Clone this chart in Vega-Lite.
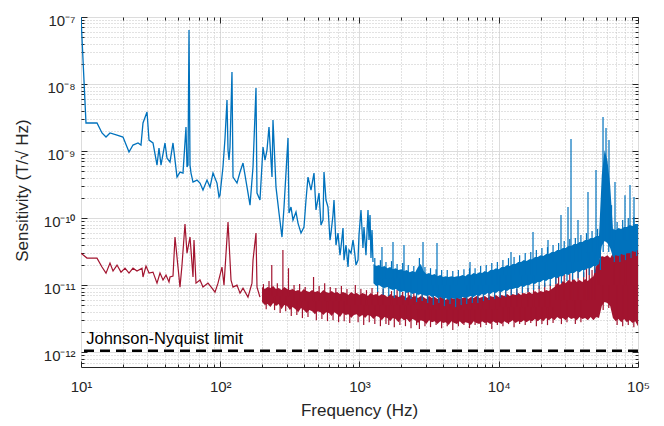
{
"$schema": "https://vega.github.io/schema/vega-lite/v6.json",
"width": 557,
"height": 350,
"autosize": {"type": "none"},
"padding": {"left": 81, "top": 17, "right": 26, "bottom": 59},
"background": "white",
"config": {
 "font": "Liberation Sans",
 "view": {"stroke": "#262626", "strokeWidth": 1},
 "axis": {"labelFont": "Liberation Sans", "labelFontSize": 15, "labelColor": "#262626", "titleFont": "Liberation Sans", "titleFontSize": 17, "titleFontWeight": "normal", "titleColor": "#262626", "tickColor": "#262626", "tickWidth": 1, "domain": false, "labelFlush": false, "labelOverlap": false, "labelBound": false}
},
"datasets": {
 "blueLine": [
  {"f":10,"v":1e-7},{"f":10.86,"v":2.62e-9},{"f":13.03,"v":2.62e-9},{"f":14.15,"v":1.86e-9},{"f":15.12,"v":1.62e-9},{"f":16.15,"v":1.86e-9},{"f":18.14,"v":1.73e-9},{"f":20.03,"v":1.62e-9},{"f":22.12,"v":9.66e-10},{"f":23.63,"v":1.23e-9},{"f":25.67,"v":1.32e-9},{"f":26.97,"v":1.23e-9},{"f":27.87,"v":2.62e-9},{"f":29.79,"v":3.82e-9},{"f":30.79,"v":1.46e-9},{"f":32.89,"v":1.32e-9},{"f":35.14,"v":6.18e-10},{"f":36.32,"v":1.11e-9},{"f":37.54,"v":6.18e-10},{"f":40.11,"v":1.32e-9},{"f":41.46,"v":7.86e-10},{"f":43.56,"v":6.85e-10},{"f":45.78,"v":1.32e-9},{"f":48.91,"v":4.09e-10},{"f":51.4,"v":4.86e-10},{"f":54.01,"v":4.7e-10},{"f":56.75,"v":2.28e-9},{"f":57.7,"v":5.77e-10},{"f":58.67,"v":6.18e-10},{"f":59.65,"v":6.4e-8},{"f":60.65,"v":6.18e-10},{"f":61.66,"v":4.7e-10},{"f":63.73,"v":3.45e-10},{"f":68.08,"v":3.69e-10},{"f":71.54,"v":3.33e-10},{"f":75.17,"v":2.62e-10},{"f":80.33,"v":3.69e-10},{"f":84.42,"v":2.9e-10},{"f":88.71,"v":4.7e-10},{"f":94.77,"v":3.33e-10},{"f":97.95,"v":2.06e-10},{"f":99.58,"v":2.21e-10},{"f":104.6,"v":5.77e-10},{"f":108.2,"v":1.56e-9},{"f":111.8,"v":5.77e-9},{"f":113.7,"v":1.035e-9},{"f":115.6,"v":7.34e-10},{"f":117.5,"v":1.15e-9},{"f":121.4,"v":1.51e-8},{"f":123.5,"v":4.09e-10},{"f":131.9,"v":3.33e-10},{"f":138.7,"v":4.86e-10},{"f":145.7,"v":6.62e-10},{"f":155.7,"v":2.9e-10},{"f":163.6,"v":1.56e-10},{"f":171.9,"v":5.77e-10},{"f":180.6,"v":8.72e-9},{"f":183.6,"v":2.36e-10},{"f":192.9,"v":1.86e-10},{"f":202.8,"v":1.15e-9},{"f":209.6,"v":7.34e-10},{"f":216.6,"v":1.035e-9},{"f":223.9,"v":2.28e-9},{"f":235.3,"v":4.09e-10},{"f":239.2,"v":2.9e-9},{"f":251.4,"v":2.9e-10},{"f":264.2,"v":1.19e-10},{"f":277.6,"v":5.21e-11},{"f":287.0,"v":1.46e-10},{"f":306.6,"v":1.56e-9},{"f":311.7,"v":1.19e-10},{"f":322.2,"v":1.46e-10},{"f":333.0,"v":9.34e-11},{"f":349.9,"v":1.23e-10},{"f":361.7,"v":8.42e-11},{"f":380.1,"v":5.97e-11},{"f":399.4,"v":7.34e-11},{"f":412.8,"v":1.86e-10},{"f":426.7,"v":4.09e-10},{"f":448.4,"v":2.62e-10},{"f":471.2,"v":4.7e-10},{"f":487.1,"v":1.32e-10},{"f":511.8,"v":2.36e-10},{"f":529.1,"v":7.86e-11},{"f":546.9,"v":9.34e-11},{"f":556.0,"v":4.86e-10},{"f":574.6,"v":1.86e-10},{"f":593.9,"v":1.46e-10},{"f":614.0,"v":4.7e-11},{"f":624.2,"v":5.97e-11},{"f":645.2,"v":1.11e-10},{"f":656.0,"v":1.86e-10},{"f":678.0,"v":3.95e-11},{"f":700.9,"v":5.97e-11},{"f":724.4,"v":2.8e-11},{"f":736.5,"v":3.69e-11},{"f":761.3,"v":7.09e-11},{"f":774.0,"v":2.36e-11},{"f":799.9,"v":3.95e-11},{"f":826.9,"v":1.86e-11},{"f":840.6,"v":3.33e-11},{"f":868.9,"v":3.0e-11},{"f":898.2,"v":4.7e-11},{"f":913.2,"v":3.69e-11},{"f":943.9,"v":1.99e-11},{"f":975.6,"v":2.36e-11},{"f":991.8,"v":5.58e-11},{"f":1025,"v":1.32e-10},{"f":1059,"v":3.57e-11},{"f":1077,"v":7.34e-11},{"f":1113,"v":2.8e-11},{"f":1151,"v":1.32e-10},{"f":1170,"v":4.7e-11},{"f":1190,"v":1.11e-10},{"f":1209,"v":2.53e-11},{"f":1230,"v":6.62e-11},{"f":1250,"v":2.21e-11}
 ],
 "blueBand": [
  {"f":1259,"hi":2.06e-11,"lo":1.07e-11},{"f":1318,"hi":1.92e-11,"lo":9.66e-12},{"f":1380,"hi":1.99e-11,"lo":1.0e-11},{"f":1445,"hi":1.86e-11,"lo":9.34e-12},{"f":1514,"hi":1.92e-11,"lo":9.02e-12},{"f":1585,"hi":1.79e-11,"lo":9.34e-12},{"f":1660,"hi":1.86e-11,"lo":8.72e-12},{"f":1738,"hi":1.73e-11,"lo":8.42e-12},{"f":1820,"hi":1.79e-11,"lo":8.72e-12},{"f":1905,"hi":1.68e-11,"lo":8.14e-12},{"f":1995,"hi":1.73e-11,"lo":7.86e-12},{"f":2089,"hi":1.62e-11,"lo":8.14e-12},{"f":2188,"hi":1.68e-11,"lo":7.6e-12},{"f":2291,"hi":1.56e-11,"lo":7.86e-12},{"f":2399,"hi":1.62e-11,"lo":7.34e-12},{"f":2512,"hi":1.56e-11,"lo":7.6e-12},{"f":2630,"hi":1.86e-11,"lo":7.09e-12},{"f":2754,"hi":2.06e-11,"lo":7.34e-12},{"f":2884,"hi":1.62e-11,"lo":7.09e-12},{"f":3020,"hi":1.46e-11,"lo":6.85e-12},{"f":3162,"hi":1.51e-11,"lo":7.09e-12},{"f":3311,"hi":1.41e-11,"lo":6.62e-12},{"f":3467,"hi":1.46e-11,"lo":6.85e-12},{"f":3631,"hi":1.36e-11,"lo":6.4e-12},{"f":3802,"hi":1.41e-11,"lo":6.62e-12},{"f":3981,"hi":1.32e-11,"lo":6.18e-12},{"f":4169,"hi":1.36e-11,"lo":6.4e-12},{"f":4365,"hi":1.32e-11,"lo":5.97e-12},{"f":4571,"hi":1.36e-11,"lo":6.4e-12},{"f":4786,"hi":1.32e-11,"lo":6.18e-12},{"f":5012,"hi":1.36e-11,"lo":6.4e-12},{"f":5248,"hi":1.36e-11,"lo":6.18e-12},{"f":5495,"hi":1.41e-11,"lo":6.62e-12},{"f":5754,"hi":1.36e-11,"lo":6.4e-12},{"f":6026,"hi":1.46e-11,"lo":6.62e-12},{"f":6310,"hi":1.41e-11,"lo":6.85e-12},{"f":6607,"hi":1.51e-11,"lo":6.62e-12},{"f":6918,"hi":1.46e-11,"lo":7.09e-12},{"f":7244,"hi":1.56e-11,"lo":6.85e-12},{"f":7586,"hi":1.51e-11,"lo":7.34e-12},{"f":7943,"hi":1.62e-11,"lo":7.09e-12},{"f":8318,"hi":1.56e-11,"lo":7.6e-12},{"f":8710,"hi":1.68e-11,"lo":7.34e-12},{"f":9120,"hi":1.68e-11,"lo":7.86e-12},{"f":9550,"hi":1.79e-11,"lo":7.6e-12},{"f":10000,"hi":1.73e-11,"lo":8.14e-12},{"f":10471,"hi":1.86e-11,"lo":7.86e-12},{"f":10965,"hi":1.86e-11,"lo":8.42e-12},{"f":11482,"hi":1.99e-11,"lo":8.14e-12},{"f":12023,"hi":1.92e-11,"lo":8.72e-12},{"f":12589,"hi":2.06e-11,"lo":8.72e-12},{"f":13183,"hi":2.06e-11,"lo":9.02e-12},{"f":13804,"hi":2.21e-11,"lo":9.02e-12},{"f":14454,"hi":2.21e-11,"lo":9.66e-12},{"f":15136,"hi":2.36e-11,"lo":9.34e-12},{"f":15849,"hi":2.28e-11,"lo":1.0e-11},{"f":16596,"hi":2.44e-11,"lo":1.0e-11},{"f":17378,"hi":2.44e-11,"lo":1.07e-11},{"f":18197,"hi":2.62e-11,"lo":1.035e-11},{"f":19055,"hi":2.62e-11,"lo":1.11e-11},{"f":19953,"hi":2.8e-11,"lo":1.11e-11},{"f":20893,"hi":2.71e-11,"lo":1.19e-11},{"f":21878,"hi":2.9e-11,"lo":1.15e-11},{"f":22909,"hi":2.9e-11,"lo":1.23e-11},{"f":23988,"hi":3.11e-11,"lo":1.23e-11},{"f":25119,"hi":3.11e-11,"lo":1.32e-11},{"f":26303,"hi":3.33e-11,"lo":1.27e-11},{"f":27542,"hi":3.33e-11,"lo":1.36e-11},{"f":28840,"hi":3.57e-11,"lo":1.36e-11},{"f":30200,"hi":3.57e-11,"lo":1.46e-11},{"f":31623,"hi":3.82e-11,"lo":1.41e-11},{"f":33113,"hi":3.82e-11,"lo":1.51e-11},{"f":34674,"hi":4.09e-11,"lo":1.51e-11},{"f":36308,"hi":4.09e-11,"lo":1.62e-11},{"f":38019,"hi":4.38e-11,"lo":1.56e-11},{"f":39811,"hi":4.38e-11,"lo":1.68e-11},{"f":41687,"hi":4.7e-11,"lo":1.68e-11},{"f":43652,"hi":4.7e-11,"lo":1.79e-11},{"f":45709,"hi":5.03e-11,"lo":1.79e-11},{"f":47863,"hi":5.03e-11,"lo":1.92e-11},{"f":50119,"hi":5.39e-11,"lo":1.92e-11},{"f":52481,"hi":5.39e-11,"lo":2.06e-11},{"f":54954,"hi":4.38e-10,"lo":3.82e-11},{"f":57544,"hi":1.035e-9,"lo":4.54e-11},{"f":60256,"hi":7.34e-10,"lo":4.24e-11},{"f":63096,"hi":3.11e-10,"lo":3.57e-11},{"f":66069,"hi":6.85e-11,"lo":2.62e-11},{"f":69183,"hi":6.62e-11,"lo":2.8e-11},{"f":72444,"hi":7.09e-11,"lo":2.71e-11},{"f":75858,"hi":6.85e-11,"lo":2.9e-11},{"f":79433,"hi":7.34e-11,"lo":2.8e-11},{"f":83176,"hi":7.34e-11,"lo":3.0e-11},{"f":87096,"hi":7.86e-11,"lo":3.0e-11},{"f":91201,"hi":7.6e-11,"lo":3.22e-11},{"f":95499,"hi":8.14e-11,"lo":3.11e-11},{"f":100000,"hi":8.14e-11,"lo":3.33e-11}
 ],
 "blueFringe": [
  {"f":1288,"tip":2.53e-11,"mid":1.27e-11},{"f":1413,"tip":2.36e-11,"mid":1.27e-11},{"f":1549,"tip":2.21e-11,"mid":1.27e-11},{"f":1698,"tip":2.28e-11,"mid":1.27e-11},{"f":1862,"tip":2.06e-11,"mid":1.27e-11},{"f":2042,"tip":2.13e-11,"mid":1.27e-11},{"f":2239,"tip":1.99e-11,"mid":1.27e-11},{"f":2455,"tip":1.92e-11,"mid":1.27e-11},{"f":2692,"tip":2.53e-11,"mid":1.27e-11},{"f":2951,"tip":1.86e-11,"mid":1.27e-11},{"f":3236,"tip":1.79e-11,"mid":1.0e-11},{"f":3548,"tip":1.73e-11,"mid":1.0e-11},{"f":3890,"tip":1.68e-11,"mid":1.0e-11},{"f":4266,"tip":1.68e-11,"mid":1.0e-11},{"f":4677,"tip":1.62e-11,"mid":1.0e-11},{"f":5129,"tip":1.68e-11,"mid":1.0e-11},{"f":5623,"tip":1.73e-11,"mid":1.0e-11},{"f":6166,"tip":1.79e-11,"mid":1.0e-11},{"f":6761,"tip":1.79e-11,"mid":1.0e-11},{"f":7413,"tip":1.92e-11,"mid":1.0e-11},{"f":8128,"tip":1.99e-11,"mid":1.0e-11},{"f":8913,"tip":2.13e-11,"mid":1.0e-11},{"f":9772,"tip":2.21e-11,"mid":1.0e-11},{"f":10715,"tip":2.36e-11,"mid":1.41e-11},{"f":11749,"tip":2.53e-11,"mid":1.41e-11},{"f":12882,"tip":2.62e-11,"mid":1.41e-11},{"f":14125,"tip":2.8e-11,"mid":1.41e-11},{"f":15488,"tip":3.0e-11,"mid":1.41e-11},{"f":16982,"tip":3.11e-11,"mid":1.41e-11},{"f":18621,"tip":3.33e-11,"mid":1.41e-11},{"f":20417,"tip":3.57e-11,"mid":2.21e-11},{"f":22387,"tip":3.69e-11,"mid":2.21e-11},{"f":24547,"tip":3.95e-11,"mid":2.21e-11},{"f":26915,"tip":4.24e-11,"mid":2.21e-11},{"f":29512,"tip":4.54e-11,"mid":2.21e-11},{"f":32359,"tip":4.86e-11,"mid":2.21e-11},{"f":35481,"tip":5.03e-11,"mid":2.21e-11},{"f":38905,"tip":5.58e-11,"mid":2.21e-11},{"f":42658,"tip":5.97e-11,"mid":3.11e-11},{"f":46774,"tip":6.4e-11,"mid":3.11e-11},{"f":51286,"tip":6.85e-11,"mid":3.11e-11},{"f":64565,"tip":1.56e-10,"mid":4.7e-11},{"f":70795,"tip":8.72e-11,"mid":4.7e-11},{"f":77625,"tip":9.34e-11,"mid":4.7e-11},{"f":85114,"tip":1.0e-10,"mid":4.7e-11},{"f":93325,"tip":1.035e-10,"mid":4.7e-11},
  {"f":1349,"tip":7.86e-12,"mid":1.27e-11},{"f":1479,"tip":7.09e-12,"mid":1.27e-11},{"f":1622,"tip":6.85e-12,"mid":1.27e-11},{"f":1778,"tip":6.4e-12,"mid":1.27e-11},{"f":1950,"tip":6.62e-12,"mid":1.27e-11},{"f":2138,"tip":5.97e-12,"mid":1.27e-11},{"f":2344,"tip":6.18e-12,"mid":1.27e-11},{"f":2570,"tip":5.58e-12,"mid":1.27e-11},{"f":2818,"tip":5.77e-12,"mid":1.27e-11},{"f":3090,"tip":5.39e-12,"mid":1.27e-11},{"f":3388,"tip":5.03e-12,"mid":1.0e-11},{"f":3715,"tip":5.39e-12,"mid":1.0e-11},{"f":4074,"tip":4.86e-12,"mid":1.0e-11},{"f":4467,"tip":5.21e-12,"mid":1.0e-11},{"f":4898,"tip":4.7e-12,"mid":1.0e-11},{"f":5370,"tip":5.03e-12,"mid":1.0e-11},{"f":5888,"tip":5.21e-12,"mid":1.0e-11},{"f":6457,"tip":5.39e-12,"mid":1.0e-11},{"f":7079,"tip":5.39e-12,"mid":1.0e-11},{"f":7762,"tip":5.77e-12,"mid":1.0e-11},{"f":8511,"tip":5.97e-12,"mid":1.0e-11},{"f":9333,"tip":6.18e-12,"mid":1.0e-11},{"f":10233,"tip":6.4e-12,"mid":1.41e-11},{"f":11220,"tip":6.62e-12,"mid":1.41e-11},{"f":12303,"tip":7.09e-12,"mid":1.41e-11},{"f":13490,"tip":7.09e-12,"mid":1.41e-11},{"f":14791,"tip":7.6e-12,"mid":1.41e-11},{"f":16218,"tip":7.86e-12,"mid":1.41e-11},{"f":17783,"tip":8.42e-12,"mid":1.41e-11},{"f":19498,"tip":8.72e-12,"mid":1.41e-11},{"f":21380,"tip":9.34e-12,"mid":2.21e-11},{"f":23442,"tip":9.66e-12,"mid":2.21e-11},{"f":25704,"tip":1.035e-11,"mid":2.21e-11},{"f":28184,"tip":1.07e-11,"mid":2.21e-11},{"f":30903,"tip":1.15e-11,"mid":2.21e-11},{"f":33884,"tip":1.19e-11,"mid":2.21e-11},{"f":37154,"tip":1.27e-11,"mid":2.21e-11},{"f":40738,"tip":1.32e-11,"mid":2.21e-11},{"f":44668,"tip":1.41e-11,"mid":3.11e-11},{"f":48978,"tip":1.51e-11,"mid":3.11e-11},{"f":53703,"tip":1.68e-11,"mid":3.11e-11},{"f":56234,"tip":3.11e-11,"mid":1.86e-10},{"f":61660,"tip":3.11e-11,"mid":1.86e-10},{"f":67608,"tip":2.21e-11,"mid":4.7e-11},{"f":74131,"tip":2.21e-11,"mid":4.7e-11},{"f":81283,"tip":2.36e-11,"mid":4.7e-11},{"f":89125,"tip":2.53e-11,"mid":4.7e-11},{"f":97724,"tip":2.71e-11,"mid":4.7e-11},
  {"f":1450,"tip":3.69e-11,"mid":1.19e-11},{"f":1740,"tip":4.38e-11,"mid":1.19e-11},{"f":2087,"tip":3.95e-11,"mid":1.0e-11},{"f":2858,"tip":4.38e-11,"mid":1.0e-11},{"f":3602,"tip":4.24e-11,"mid":9.02e-12},{"f":6218,"tip":2.21e-11,"mid":8.42e-12},{"f":12246,"tip":3.11e-11,"mid":1.19e-11},{"f":17620,"tip":6.18e-11,"mid":1.41e-11},{"f":22580,"tip":4.7e-11,"mid":1.68e-11},{"f":27990,"tip":1.11e-10,"mid":1.99e-11},{"f":31430,"tip":1.46e-10,"mid":2.21e-11},{"f":33030,"tip":1.51e-9,"mid":2.36e-11},{"f":37080,"tip":9.34e-11,"mid":2.21e-11},{"f":43740,"tip":2.44e-10,"mid":2.53e-11},{"f":49930,"tip":5.2e-10,"mid":2.8e-11},{"f":56080,"tip":3.22e-9,"mid":4.7e-11},{"f":58920,"tip":2.2e-9,"mid":4.7e-11},{"f":61900,"tip":1.46e-9,"mid":4.7e-11},{"f":68360,"tip":3.45e-10,"mid":4.7e-11},{"f":80660,"tip":2.2e-10,"mid":4.7e-11},{"f":87610,"tip":3.11e-10,"mid":4.7e-11},{"f":93610,"tip":2.06e-10,"mid":4.7e-11}
 ],
 "redLine": [
  {"f":10,"v":3.0e-11},{"f":11.04,"v":2.53e-11},{"f":13.03,"v":2.53e-11},{"f":14.15,"v":1.86e-11},{"f":15.12,"v":1.51e-11},{"f":16.15,"v":2.13e-11},{"f":16.98,"v":1.62e-11},{"f":18.14,"v":1.99e-11},{"f":19.38,"v":1.56e-11},{"f":20.7,"v":1.79e-11},{"f":22.12,"v":1.51e-11},{"f":23.63,"v":1.79e-11},{"f":25.24,"v":1.62e-11},{"f":27.42,"v":1.79e-11},{"f":27.87,"v":1.32e-11},{"f":29.3,"v":1.92e-11},{"f":30.79,"v":1.51e-11},{"f":32.89,"v":1.56e-11},{"f":35.14,"v":1.07e-11},{"f":36.93,"v":1.51e-11},{"f":38.81,"v":1.19e-11},{"f":40.77,"v":1.41e-11},{"f":42.85,"v":1.11e-11},{"f":43.56,"v":1.32e-11},{"f":45.78,"v":1.36e-11},{"f":47.32,"v":5.21e-11},{"f":49.72,"v":1.86e-11},{"f":51.4,"v":9.34e-12},{"f":53.12,"v":1.99e-11},{"f":55.82,"v":8.14e-11},{"f":57.7,"v":3.0e-11},{"f":60.65,"v":5.21e-11},{"f":63.73,"v":1.32e-11},{"f":64.79,"v":4.7e-11},{"f":66.97,"v":1.07e-11},{"f":71.54,"v":1.19e-11},{"f":75.17,"v":9.34e-12},{"f":81.66,"v":1.07e-11},{"f":87.24,"v":9.02e-12},{"f":91.68,"v":7.86e-12},{"f":96.34,"v":1.07e-11},{"f":102.9,"v":1.86e-11},{"f":106.4,"v":1.0e-11},{"f":113.7,"v":8.72e-11},{"f":119.5,"v":1.19e-11},{"f":123.5,"v":9.34e-12},{"f":131.9,"v":1.0e-11},{"f":138.7,"v":7.6e-12},{"f":145.7,"v":9.02e-12},{"f":158.2,"v":6.62e-12},{"f":169.0,"v":1.07e-11},{"f":171.9,"v":2.36e-11},{"f":180.6,"v":5.97e-11},{"f":183.6,"v":9.34e-12},{"f":192.9,"v":6.62e-12}
 ],
 "redBand": [
  {"f":199.5,"hi":9.34e-12,"lo":5.58e-12},{"f":208.9,"hi":8.72e-12,"lo":5.03e-12},{"f":218.8,"hi":9.34e-12,"lo":5.21e-12},{"f":229.1,"hi":9.02e-12,"lo":4.7e-12},{"f":239.9,"hi":9.66e-12,"lo":5.39e-12},{"f":251.2,"hi":8.72e-12,"lo":4.86e-12},{"f":263.0,"hi":9.02e-12,"lo":5.21e-12},{"f":275.4,"hi":8.42e-12,"lo":4.38e-12},{"f":288.4,"hi":9.34e-12,"lo":5.03e-12},{"f":302.0,"hi":8.72e-12,"lo":4.86e-12},{"f":316.2,"hi":8.42e-12,"lo":4.24e-12},{"f":331.1,"hi":8.72e-12,"lo":4.7e-12},{"f":346.7,"hi":8.14e-12,"lo":4.38e-12},{"f":363.1,"hi":8.42e-12,"lo":3.95e-12},{"f":380.2,"hi":7.86e-12,"lo":4.54e-12},{"f":398.1,"hi":8.72e-12,"lo":4.24e-12},{"f":416.9,"hi":8.14e-12,"lo":3.82e-12},{"f":436.5,"hi":7.86e-12,"lo":4.24e-12},{"f":457.1,"hi":8.42e-12,"lo":4.09e-12},{"f":478.6,"hi":7.86e-12,"lo":3.69e-12},{"f":501.2,"hi":8.14e-12,"lo":4.09e-12},{"f":524.8,"hi":7.6e-12,"lo":3.95e-12},{"f":549.5,"hi":8.42e-12,"lo":3.57e-12},{"f":575.4,"hi":7.86e-12,"lo":3.95e-12},{"f":602.6,"hi":7.6e-12,"lo":3.82e-12},{"f":631.0,"hi":8.14e-12,"lo":3.45e-12},{"f":660.7,"hi":7.6e-12,"lo":3.95e-12},{"f":691.8,"hi":7.86e-12,"lo":3.69e-12},{"f":724.4,"hi":7.34e-12,"lo":3.33e-12},{"f":758.6,"hi":7.86e-12,"lo":3.82e-12},{"f":794.3,"hi":7.6e-12,"lo":3.57e-12},{"f":831.8,"hi":7.09e-12,"lo":3.69e-12},{"f":871.0,"hi":7.86e-12,"lo":3.22e-12},{"f":912.0,"hi":7.34e-12,"lo":3.57e-12},{"f":955.0,"hi":7.6e-12,"lo":3.69e-12},{"f":1000,"hi":7.09e-12,"lo":3.33e-12},{"f":1047,"hi":7.6e-12,"lo":3.57e-12},{"f":1096,"hi":7.34e-12,"lo":3.22e-12},{"f":1148,"hi":6.85e-12,"lo":3.57e-12},{"f":1202,"hi":7.6e-12,"lo":3.45e-12},{"f":1259,"hi":7.09e-12,"lo":3.11e-12},{"f":1318,"hi":7.34e-12,"lo":3.45e-12},{"f":1380,"hi":6.85e-12,"lo":3.33e-12},{"f":1445,"hi":7.34e-12,"lo":3.0e-12},{"f":1514,"hi":7.09e-12,"lo":3.33e-12},{"f":1585,"hi":6.62e-12,"lo":3.22e-12},{"f":1660,"hi":7.34e-12,"lo":2.9e-12},{"f":1738,"hi":6.85e-12,"lo":3.22e-12},{"f":1820,"hi":7.09e-12,"lo":3.11e-12},{"f":1905,"hi":6.62e-12,"lo":2.8e-12},{"f":1995,"hi":7.09e-12,"lo":3.22e-12},{"f":2089,"hi":6.85e-12,"lo":3.0e-12},{"f":2188,"hi":6.4e-12,"lo":3.11e-12},{"f":2291,"hi":7.09e-12,"lo":2.8e-12},{"f":2399,"hi":6.62e-12,"lo":3.11e-12},{"f":2512,"hi":6.85e-12,"lo":3.0e-12},{"f":2630,"hi":6.4e-12,"lo":2.71e-12},{"f":2754,"hi":6.85e-12,"lo":3.0e-12},{"f":2884,"hi":6.62e-12,"lo":2.9e-12},{"f":3020,"hi":6.18e-12,"lo":2.62e-12},{"f":3162,"hi":6.85e-12,"lo":3.0e-12},{"f":3311,"hi":6.4e-12,"lo":2.8e-12},{"f":3467,"hi":6.62e-12,"lo":2.9e-12},{"f":3631,"hi":6.18e-12,"lo":2.62e-12},{"f":3802,"hi":6.62e-12,"lo":2.9e-12},{"f":3981,"hi":6.4e-12,"lo":2.71e-12},{"f":4169,"hi":5.97e-12,"lo":2.8e-12},{"f":4365,"hi":6.62e-12,"lo":2.53e-12},{"f":4571,"hi":6.4e-12,"lo":2.9e-12},{"f":4786,"hi":6.18e-12,"lo":2.71e-12},{"f":5012,"hi":6.62e-12,"lo":2.62e-12},{"f":5248,"hi":6.18e-12,"lo":2.9e-12},{"f":5495,"hi":6.4e-12,"lo":2.62e-12},{"f":5754,"hi":6.62e-12,"lo":2.8e-12},{"f":6026,"hi":6.18e-12,"lo":2.71e-12},{"f":6310,"hi":6.62e-12,"lo":2.53e-12},{"f":6607,"hi":6.4e-12,"lo":2.9e-12},{"f":6918,"hi":6.85e-12,"lo":2.71e-12},{"f":7244,"hi":6.4e-12,"lo":2.62e-12},{"f":7586,"hi":6.62e-12,"lo":2.9e-12},{"f":7943,"hi":6.85e-12,"lo":2.71e-12},{"f":8318,"hi":6.4e-12,"lo":2.8e-12},{"f":8710,"hi":6.85e-12,"lo":2.62e-12},{"f":9120,"hi":6.62e-12,"lo":2.9e-12},{"f":9550,"hi":7.09e-12,"lo":2.71e-12},{"f":10000,"hi":6.62e-12,"lo":2.8e-12},{"f":10471,"hi":7.09e-12,"lo":2.62e-12},{"f":10965,"hi":6.85e-12,"lo":2.9e-12},{"f":11482,"hi":7.34e-12,"lo":2.71e-12},{"f":12023,"hi":6.85e-12,"lo":2.8e-12},{"f":12589,"hi":7.34e-12,"lo":3.0e-12},{"f":13183,"hi":7.09e-12,"lo":2.71e-12},{"f":13804,"hi":7.6e-12,"lo":2.9e-12},{"f":14454,"hi":7.09e-12,"lo":2.8e-12},{"f":15136,"hi":7.6e-12,"lo":3.0e-12},{"f":15849,"hi":7.34e-12,"lo":2.8e-12},{"f":16596,"hi":7.86e-12,"lo":3.0e-12},{"f":17378,"hi":7.34e-12,"lo":2.9e-12},{"f":18197,"hi":8.14e-12,"lo":3.11e-12},{"f":19055,"hi":7.6e-12,"lo":2.9e-12},{"f":19953,"hi":8.14e-12,"lo":3.11e-12},{"f":20893,"hi":7.86e-12,"lo":2.9e-12},{"f":21878,"hi":8.42e-12,"lo":3.22e-12},{"f":22909,"hi":8.14e-12,"lo":3.0e-12},{"f":23988,"hi":8.72e-12,"lo":3.22e-12},{"f":25119,"hi":9.34e-12,"lo":3.0e-12},{"f":26303,"hi":1.07e-11,"lo":3.33e-12},{"f":27542,"hi":1.0e-11,"lo":3.11e-12},{"f":28840,"hi":1.15e-11,"lo":3.22e-12},{"f":30200,"hi":1.07e-11,"lo":3.0e-12},{"f":31623,"hi":1.19e-11,"lo":3.33e-12},{"f":33113,"hi":1.11e-11,"lo":3.11e-12},{"f":34674,"hi":1.23e-11,"lo":3.22e-12},{"f":36308,"hi":1.11e-11,"lo":3.0e-12},{"f":38019,"hi":1.19e-11,"lo":3.33e-12},{"f":39811,"hi":1.11e-11,"lo":3.11e-12},{"f":41687,"hi":1.23e-11,"lo":3.22e-12},{"f":43652,"hi":1.15e-11,"lo":3.0e-12},{"f":45709,"hi":1.27e-11,"lo":3.33e-12},{"f":47863,"hi":1.36e-11,"lo":3.0e-12},{"f":50119,"hi":1.92e-11,"lo":3.33e-12},{"f":52481,"hi":2.36e-11,"lo":3.22e-12},{"f":54954,"hi":2.71e-11,"lo":4.86e-12},{"f":57544,"hi":2.62e-11,"lo":5.58e-12},{"f":60256,"hi":2.8e-11,"lo":5.39e-12},{"f":63096,"hi":2.53e-11,"lo":4.86e-12},{"f":66069,"hi":3.0e-11,"lo":3.22e-12},{"f":69183,"hi":3.11e-11,"lo":2.9e-12},{"f":72444,"hi":3.22e-11,"lo":3.11e-12},{"f":75858,"hi":3.11e-11,"lo":2.8e-12},{"f":79433,"hi":3.33e-11,"lo":3.11e-12},{"f":83176,"hi":3.22e-11,"lo":2.8e-12},{"f":87096,"hi":3.45e-11,"lo":3.0e-12},{"f":91201,"hi":3.33e-11,"lo":2.71e-12},{"f":95499,"hi":3.57e-11,"lo":2.9e-12},{"f":100000,"hi":3.45e-11,"lo":2.44e-12}
 ],
 "redFringe": [
  {"f":204.2,"tip":1.035e-11,"mid":6.85e-12},{"f":223.9,"tip":1.15e-11,"mid":6.85e-12},{"f":234.4,"tip":1.99e-11,"mid":6.85e-12},{"f":257.0,"tip":1.07e-11,"mid":6.85e-12},{"f":281.8,"tip":3.33e-11,"mid":6.85e-12},{"f":309.0,"tip":1.79e-11,"mid":6.85e-12},{"f":338.8,"tip":1.0e-11,"mid":5.77e-12},{"f":371.5,"tip":1.035e-11,"mid":5.77e-12},{"f":407.4,"tip":9.34e-12,"mid":5.77e-12},{"f":467.7,"tip":1.32e-11,"mid":5.77e-12},{"f":512.9,"tip":9.66e-12,"mid":5.77e-12},{"f":562.3,"tip":1.07e-11,"mid":5.77e-12},{"f":616.6,"tip":9.34e-12,"mid":5.77e-12},{"f":676.1,"tip":9.02e-12,"mid":5.77e-12},{"f":741.3,"tip":9.66e-12,"mid":5.77e-12},{"f":812.8,"tip":8.72e-12,"mid":5.03e-12},{"f":933.3,"tip":1.0e-11,"mid":5.03e-12},{"f":1023,"tip":8.72e-12,"mid":5.03e-12},{"f":1122,"tip":8.42e-12,"mid":5.03e-12},{"f":1230,"tip":9.02e-12,"mid":5.03e-12},{"f":1349,"tip":8.14e-12,"mid":5.03e-12},{"f":1479,"tip":8.72e-12,"mid":5.03e-12},{"f":1698,"tip":8.14e-12,"mid":5.03e-12},{"f":1862,"tip":8.42e-12,"mid":5.03e-12},{"f":2042,"tip":7.86e-12,"mid":5.03e-12},{"f":2239,"tip":8.72e-12,"mid":5.03e-12},{"f":2455,"tip":7.86e-12,"mid":5.03e-12},{"f":2818,"tip":8.14e-12,"mid":4.38e-12},{"f":3090,"tip":7.6e-12,"mid":4.38e-12},{"f":3388,"tip":8.42e-12,"mid":4.38e-12},{"f":3715,"tip":7.6e-12,"mid":4.38e-12},{"f":4074,"tip":7.86e-12,"mid":4.38e-12},{"f":4467,"tip":7.34e-12,"mid":4.38e-12},{"f":4898,"tip":8.42e-12,"mid":4.38e-12},{"f":5370,"tip":7.6e-12,"mid":4.38e-12},{"f":5888,"tip":7.86e-12,"mid":4.38e-12},{"f":6457,"tip":8.14e-12,"mid":4.38e-12},{"f":7079,"tip":7.6e-12,"mid":4.38e-12},{"f":7762,"tip":8.72e-12,"mid":4.38e-12},{"f":8511,"tip":8.14e-12,"mid":4.38e-12},{"f":9333,"tip":8.42e-12,"mid":4.38e-12},{"f":10233,"tip":9.02e-12,"mid":4.7e-12},{"f":11220,"tip":8.42e-12,"mid":4.7e-12},{"f":12303,"tip":9.34e-12,"mid":4.7e-12},{"f":13490,"tip":8.72e-12,"mid":4.7e-12},{"f":14791,"tip":9.66e-12,"mid":4.7e-12},{"f":16218,"tip":9.02e-12,"mid":4.7e-12},{"f":17783,"tip":1.035e-11,"mid":4.7e-12},{"f":19498,"tip":9.66e-12,"mid":4.7e-12},{"f":21380,"tip":1.07e-11,"mid":4.7e-12},{"f":23442,"tip":1.035e-11,"mid":4.7e-12},{"f":25704,"tip":1.36e-11,"mid":5.97e-12},{"f":26915,"tip":1.56e-11,"mid":5.97e-12},{"f":29512,"tip":1.92e-11,"mid":5.97e-12},{"f":32359,"tip":1.46e-11,"mid":5.97e-12},{"f":33884,"tip":1.68e-11,"mid":5.97e-12},{"f":37154,"tip":1.79e-11,"mid":5.97e-12},{"f":40738,"tip":1.56e-11,"mid":5.97e-12},{"f":42658,"tip":1.79e-11,"mid":5.97e-12},{"f":44668,"tip":2.06e-11,"mid":5.97e-12},{"f":46774,"tip":1.68e-11,"mid":5.97e-12},{"f":48978,"tip":2.53e-11,"mid":5.97e-12},{"f":51286,"tip":2.9e-11,"mid":1.0e-11},{"f":53703,"tip":3.33e-11,"mid":1.0e-11},{"f":67608,"tip":3.82e-11,"mid":1.0e-11},{"f":74131,"tip":3.95e-11,"mid":1.0e-11},{"f":81283,"tip":4.09e-11,"mid":1.0e-11},{"f":89125,"tip":3.82e-11,"mid":1.0e-11},{"f":97724,"tip":4.24e-11,"mid":1.0e-11},
  {"f":213.8,"tip":4.38e-12,"mid":6.85e-12},{"f":245.5,"tip":4.24e-12,"mid":6.85e-12},{"f":269.2,"tip":3.82e-12,"mid":6.85e-12},{"f":295.1,"tip":4.09e-12,"mid":6.85e-12},{"f":323.6,"tip":3.45e-12,"mid":5.77e-12},{"f":354.8,"tip":3.57e-12,"mid":5.77e-12},{"f":389.0,"tip":3.22e-12,"mid":5.77e-12},{"f":426.6,"tip":3.33e-12,"mid":5.77e-12},{"f":489.8,"tip":3.0e-12,"mid":5.77e-12},{"f":537.0,"tip":3.11e-12,"mid":5.77e-12},{"f":588.8,"tip":2.9e-12,"mid":5.77e-12},{"f":645.7,"tip":3.0e-12,"mid":5.77e-12},{"f":707.9,"tip":2.8e-12,"mid":5.77e-12},{"f":776.2,"tip":2.9e-12,"mid":5.77e-12},{"f":851.1,"tip":2.71e-12,"mid":5.03e-12},{"f":977.2,"tip":2.8e-12,"mid":5.03e-12},{"f":1072,"tip":2.53e-12,"mid":5.03e-12},{"f":1175,"tip":2.8e-12,"mid":5.03e-12},{"f":1288,"tip":2.62e-12,"mid":5.03e-12},{"f":1413,"tip":2.44e-12,"mid":5.03e-12},{"f":1549,"tip":2.62e-12,"mid":5.03e-12},{"f":1622,"tip":2.53e-12,"mid":5.03e-12},{"f":1778,"tip":2.36e-12,"mid":5.03e-12},{"f":1950,"tip":2.53e-12,"mid":5.03e-12},{"f":2138,"tip":2.44e-12,"mid":5.03e-12},{"f":2344,"tip":2.28e-12,"mid":5.03e-12},{"f":2570,"tip":2.53e-12,"mid":4.38e-12},{"f":2692,"tip":2.21e-12,"mid":4.38e-12},{"f":2951,"tip":2.44e-12,"mid":4.38e-12},{"f":3236,"tip":2.36e-12,"mid":4.38e-12},{"f":3548,"tip":2.53e-12,"mid":4.38e-12},{"f":3890,"tip":2.28e-12,"mid":4.38e-12},{"f":4266,"tip":2.44e-12,"mid":4.38e-12},{"f":4677,"tip":2.13e-12,"mid":4.38e-12},{"f":5129,"tip":2.44e-12,"mid":4.38e-12},{"f":5623,"tip":2.53e-12,"mid":4.38e-12},{"f":6166,"tip":2.28e-12,"mid":4.38e-12},{"f":6761,"tip":2.53e-12,"mid":4.38e-12},{"f":7413,"tip":2.36e-12,"mid":4.38e-12},{"f":8128,"tip":2.53e-12,"mid":4.38e-12},{"f":8913,"tip":2.21e-12,"mid":4.38e-12},{"f":9772,"tip":2.53e-12,"mid":4.38e-12},{"f":10715,"tip":2.44e-12,"mid":4.7e-12},{"f":11749,"tip":2.62e-12,"mid":4.7e-12},{"f":12882,"tip":2.36e-12,"mid":4.7e-12},{"f":14125,"tip":2.62e-12,"mid":4.7e-12},{"f":15488,"tip":2.53e-12,"mid":4.7e-12},{"f":16982,"tip":2.71e-12,"mid":4.7e-12},{"f":18621,"tip":2.44e-12,"mid":4.7e-12},{"f":20417,"tip":2.62e-12,"mid":4.7e-12},{"f":22387,"tip":2.53e-12,"mid":4.7e-12},{"f":24547,"tip":2.71e-12,"mid":4.7e-12},{"f":28184,"tip":2.62e-12,"mid":5.97e-12},{"f":30903,"tip":2.8e-12,"mid":5.97e-12},{"f":35481,"tip":2.62e-12,"mid":5.97e-12},{"f":38905,"tip":2.8e-12,"mid":5.97e-12},{"f":56234,"tip":4.24e-12,"mid":1.0e-11},{"f":61660,"tip":4.54e-12,"mid":1.0e-11},{"f":70795,"tip":2.53e-12,"mid":1.0e-11},{"f":77625,"tip":2.44e-12,"mid":1.0e-11},{"f":85114,"tip":2.53e-12,"mid":1.0e-11},{"f":93325,"tip":2.36e-12,"mid":1.0e-11}
 ]
},
"resolve": {"axis": {"x": "independent", "y": "independent"}},
"layer": [
 {
  "data": {"name": "redBand"},
  "mark": {"type": "area", "color": "#A2142F", "clip": true},
  "encoding": {
   "x": {"field": "f", "type": "quantitative", "scale": {"type": "log", "domain": [10, 100000], "nice": false},
    "axis": {"orient": "bottom", "values": [20,30,40,50,60,70,80,90,200,300,400,500,600,700,800,900,2000,3000,4000,5000,6000,7000,8000,9000,20000,30000,40000,50000,60000,70000,80000,90000], "grid": true, "gridDash": [1, 2], "gridColor": "#c4c4c4", "labels": false, "ticks": true, "tickSize": -3, "title": null}},
   "y": {"field": "hi", "type": "quantitative", "scale": {"type": "log", "domain": [6e-13, 1e-7], "nice": false},
    "axis": {"orient": "left", "values": [7e-13,8e-13,9e-13,2e-12,3e-12,4e-12,5e-12,6e-12,7e-12,8e-12,9e-12,2e-11,3e-11,4e-11,5e-11,6e-11,7e-11,8e-11,9e-11,2e-10,3e-10,4e-10,5e-10,6e-10,7e-10,8e-10,9e-10,2e-9,3e-9,4e-9,5e-9,6e-9,7e-9,8e-9,9e-9,2e-8,3e-8,4e-8,5e-8,6e-8,7e-8,8e-8,9e-8], "grid": true, "gridDash": [1, 2], "gridColor": "#c4c4c4", "labels": false, "ticks": true, "tickSize": -3, "title": null}},
   "y2": {"field": "lo"}
  }
 },
 {
  "data": {"name": "redFringe"},
  "mark": {"type": "rule", "color": "#A2142F", "strokeWidth": 1.2, "clip": true},
  "encoding": {
   "x": {"field": "f", "type": "quantitative", "scale": {"type": "log", "domain": [10, 100000], "nice": false},
    "axis": {"orient": "bottom", "values": [10,100,1000,10000,100000], "grid": false, "labels": false, "ticks": true, "tickSize": -6, "title": null}},
   "y": {"field": "tip", "type": "quantitative", "scale": {"type": "log", "domain": [6e-13, 1e-7], "nice": false},
    "axis": {"orient": "left", "values": [1e-12,1e-11,1e-10,1e-9,1e-8,1e-7], "grid": false, "labels": false, "ticks": true, "tickSize": -6, "title": null}},
   "y2": {"field": "mid"}
  }
 },
 {
  "data": {"name": "redLine"},
  "mark": {"type": "line", "color": "#A2142F", "strokeWidth": 1.2, "clip": true},
  "encoding": {
   "x": {"field": "f", "type": "quantitative", "scale": {"type": "log", "domain": [10, 100000], "nice": false},
    "axis": {"orient": "top", "values": [20,30,40,50,60,70,80,90,200,300,400,500,600,700,800,900,2000,3000,4000,5000,6000,7000,8000,9000,20000,30000,40000,50000,60000,70000,80000,90000], "grid": false, "labels": false, "ticks": true, "tickSize": -3, "title": null}},
   "y": {"field": "v", "type": "quantitative", "scale": {"type": "log", "domain": [6e-13, 1e-7], "nice": false},
    "axis": {"orient": "right", "values": [7e-13,8e-13,9e-13,2e-12,3e-12,4e-12,5e-12,6e-12,7e-12,8e-12,9e-12,2e-11,3e-11,4e-11,5e-11,6e-11,7e-11,8e-11,9e-11,2e-10,3e-10,4e-10,5e-10,6e-10,7e-10,8e-10,9e-10,2e-9,3e-9,4e-9,5e-9,6e-9,7e-9,8e-9,9e-9,2e-8,3e-8,4e-8,5e-8,6e-8,7e-8,8e-8,9e-8], "grid": false, "labels": false, "ticks": true, "tickSize": -3, "title": null}}
  }
 },
 {
  "data": {"name": "blueLine"},
  "mark": {"type": "line", "color": "#0072BD", "strokeWidth": 1.3, "clip": true},
  "encoding": {
   "x": {"field": "f", "type": "quantitative", "scale": {"type": "log", "domain": [10, 100000], "nice": false},
    "axis": {"orient": "bottom", "values": [10,100,1000,10000,100000], "grid": true, "gridColor": "#dcdcdc", "ticks": false, "labels": true, "labelPadding": 12, "labelExpr": "'10' + ['⁰','¹','²','³','⁴','⁵','⁶','⁷','⁸','⁹'][round(log(datum.value)/LN10)]", "title": "Frequency (Hz)", "titleX": 278, "titleY": 43, "titleBaseline": "middle", "titleAlign": "center"}},
   "y": {"field": "v", "type": "quantitative", "scale": {"type": "log", "domain": [6e-13, 1e-7], "nice": false},
    "axis": {"orient": "left", "values": [1e-12,1e-11,1e-10,1e-9,1e-8,1e-7], "grid": true, "gridColor": "#dcdcdc", "ticks": false, "labels": true, "labelPadding": 6, "labelOffset": 3, "labelExpr": "'10⁻' + (round(-log(datum.value)/LN10) >= 10 ? '¹' + ['⁰','¹','²','³','⁴','⁵','⁶','⁷','⁸','⁹'][round(-log(datum.value)/LN10) - 10] : ['⁰','¹','²','³','⁴','⁵','⁶','⁷','⁸','⁹'][round(-log(datum.value)/LN10)])", "title": "Sensitivity (T/√ Hz)", "titleX": -59, "titleY": 173, "titleBaseline": "middle", "titleAlign": "center", "titleAngle": -90}}
  }
 },
 {
  "data": {"name": "blueBand"},
  "mark": {"type": "area", "color": "#0072BD", "clip": true},
  "encoding": {
   "x": {"field": "f", "type": "quantitative", "scale": {"type": "log", "domain": [10, 100000], "nice": false},
    "axis": {"orient": "top", "values": [10,100,1000,10000,100000], "grid": false, "labels": false, "ticks": true, "tickSize": -6, "title": null}},
   "y": {"field": "hi", "type": "quantitative", "scale": {"type": "log", "domain": [6e-13, 1e-7], "nice": false},
    "axis": {"orient": "right", "values": [1e-12,1e-11,1e-10,1e-9,1e-8,1e-7], "grid": false, "labels": false, "ticks": true, "tickSize": -6, "title": null}},
   "y2": {"field": "lo"}
  }
 },
 {
  "data": {"name": "blueFringe"},
  "mark": {"type": "rule", "color": "#0072BD", "strokeWidth": 1.2, "clip": true},
  "encoding": {
   "x": {"field": "f", "type": "quantitative", "scale": {"type": "log", "domain": [10, 100000], "nice": false}, "axis": null},
   "y": {"field": "tip", "type": "quantitative", "scale": {"type": "log", "domain": [6e-13, 1e-7], "nice": false}, "axis": null},
   "y2": {"field": "mid"}
  }
 },
 {
  "data": {"values": [{}]},
  "mark": {"type": "rule", "color": "#000000", "strokeWidth": 2.5, "strokeDash": [10, 6]},
  "encoding": {
   "y": {"datum": 1.05e-12, "type": "quantitative", "scale": {"type": "log", "domain": [6e-13, 1e-7], "nice": false}, "axis": null}
  }
 },
 {
  "data": {"values": [{}]},
  "mark": {"type": "text", "text": "Johnson-Nyquist limit", "align": "left", "baseline": "alphabetic", "fontSize": 16.5, "font": "Liberation Sans", "color": "#000000"},
  "encoding": {
   "x": {"datum": 10.9, "type": "quantitative", "scale": {"type": "log", "domain": [10, 100000], "nice": false}, "axis": null},
   "y": {"datum": 1.3e-12, "type": "quantitative", "scale": {"type": "log", "domain": [6e-13, 1e-7], "nice": false}, "axis": null}
  }
 }
]
}
